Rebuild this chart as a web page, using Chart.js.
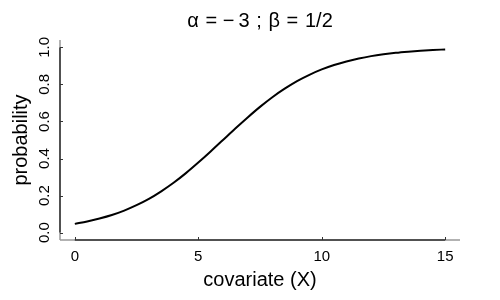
<!DOCTYPE html>
<html>
<head>
<meta charset="utf-8">
<script src="https://cdn.jsdelivr.net/npm/chart.js@4/dist/chart.umd.min.js"></script>
<style>
  body { margin: 0; background: #fff; }
</style>
</head>
<body>
<canvas id="myChart" width="500" height="300"></canvas>
<script>
// values (covariate -> probability)
const covariate = [0, 0.5, 1, 1.5, 2, 2.5, 3, 3.5, 4, 4.5, 5, 5.5, 6, 6.5, 7, 7.5,
  8, 8.5, 9, 9.5, 10, 10.5, 11, 11.5, 12, 12.5, 13, 13.5, 14, 14.5, 15];
const probability = [0.047, 0.060, 0.076, 0.095, 0.119, 0.148, 0.182, 0.223, 0.269, 0.321,
  0.378, 0.438, 0.500, 0.562, 0.622, 0.679, 0.731, 0.777, 0.818, 0.852, 0.881,
  0.905, 0.924, 0.940, 0.953, 0.963, 0.971, 0.977, 0.982, 0.986, 0.989];
const xTicks = [0, 5, 10, 15];
const yTicks = [0, 0.2, 0.4, 0.6, 0.8, 1.0];

const FONT = '"Liberation Sans", Arial, sans-serif';

// R-style axis lines: dark between first and last tick, grey beyond, short inward ticks
const axesPlugin = {
  id: 'rAxes',
  beforeDatasetsDraw(chart) {
    const ctx = chart.ctx;
    const a = chart.chartArea;
    const x = chart.scales.x, y = chart.scales.y;
    ctx.save();
    ctx.lineWidth = 1.5;
    // light parts
    ctx.strokeStyle = '#999';
    ctx.beginPath();
    ctx.moveTo(a.left, a.bottom); ctx.lineTo(a.right, a.bottom);
    ctx.moveTo(a.left, a.bottom); ctx.lineTo(a.left, a.top);
    ctx.stroke();
    // dark parts
    ctx.strokeStyle = '#333';
    ctx.beginPath();
    ctx.moveTo(x.getPixelForValue(xTicks[0]), a.bottom);
    ctx.lineTo(x.getPixelForValue(xTicks[xTicks.length - 1]), a.bottom);
    ctx.moveTo(a.left, y.getPixelForValue(yTicks[0]));
    ctx.lineTo(a.left, y.getPixelForValue(yTicks[yTicks.length - 1]));
    ctx.stroke();
    ctx.lineWidth = 1;
    ctx.beginPath();
    xTicks.forEach(v => {
      const px = Math.round(x.getPixelForValue(v)) + 0.5;
      ctx.moveTo(px, a.bottom); ctx.lineTo(px, a.bottom - 3);
    });
    yTicks.forEach(v => {
      const py = Math.round(y.getPixelForValue(v)) + 0.5;
      ctx.moveTo(a.left, py); ctx.lineTo(a.left + 3, py);
    });
    ctx.stroke();
    ctx.restore();
  }
};

const ctx = document.getElementById('myChart').getContext('2d');
const chart = new Chart(ctx, {
  type: 'line',
  data: {
    datasets: [{
      data: covariate.map((v, i) => ({ x: v, y: probability[i] })),
      borderColor: '#000',
      borderWidth: 2,
      pointRadius: 0,
      cubicInterpolationMode: 'monotone',
      fill: false
    }]
  },
  options: {
    responsive: false,
    animation: false,
    layout: { padding: { left: 0, right: 40, top: 0, bottom: 0 } },
    scales: {
      x: {
        type: 'linear',
        min: -0.6,
        max: 15.6,
        afterFit: s => { s.height = 60; },
        afterBuildTicks: s => { s.ticks = xTicks.map(v => ({ value: v })); },
        grid: { display: false, drawTicks: false },
        border: { display: false },
        ticks: {
          color: '#000', padding: 8, maxRotation: 0,
          font: { family: FONT, size: 15 }
        },
        title: {
          display: true, text: 'covariate (X)', color: '#000',
          font: { family: FONT, size: 20 }, padding: { top: 0, bottom: 8 }
        }
      },
      y: {
        type: 'linear',
        min: -0.04,
        max: 1.04,
        afterFit: s => { s.width = 60; },
        afterBuildTicks: s => { s.ticks = yTicks.map(v => ({ value: v })); },
        grid: { display: false, drawTicks: false },
        border: { display: false },
        ticks: {
          color: '#000', padding: 5, minRotation: 90, maxRotation: 90,
          crossAlign: 'center',
          font: { family: FONT, size: 15 },
          callback: v => v.toFixed(1)
        },
        title: {
          display: true, text: 'probability', color: '#000',
          font: { family: FONT, size: 20 }, padding: { top: 9, bottom: 0 }
        }
      }
    },
    plugins: {
      legend: { display: false },
      tooltip: { enabled: false },
      title: {
        display: true,
        fullSize: false,
        text: 'α\u2004= −\u20093\u2004;\u2004β\u2004=\u20041/2',
        color: '#000',
        font: { family: FONT, size: 20, weight: 'normal' },
        padding: { top: 9, bottom: 7 }
      }
    }
  },
  plugins: [axesPlugin]
});
</script>
</body>
</html>
